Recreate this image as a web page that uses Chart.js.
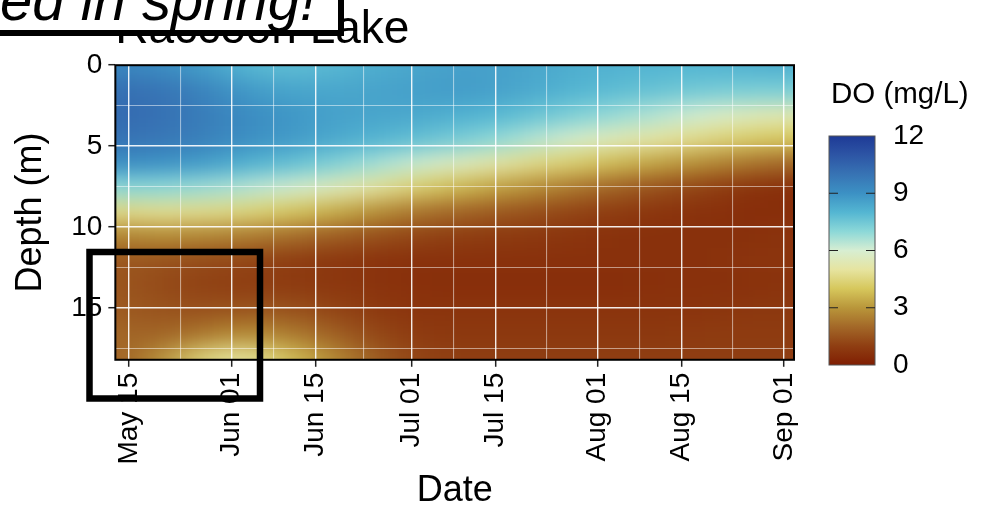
<!DOCTYPE html>
<html>
<head>
<meta charset="UTF-8" />
<title>Raccoon Lake - dissolved oxygen</title>
<script src="https://cdn.jsdelivr.net/npm/chart.js@4.4.0/dist/chart.umd.min.js"></script>
<style>
  body { margin: 0; background: #fff; }
</style>
</head>
<body>
<canvas id="chart" width="993" height="514"></canvas>
<script>
// sampling grid: day of year (2023) and depth (m)
const sampleDays = [133, 140, 147, 154, 161, 168, 175, 182, 189, 196, 203, 210, 217, 224, 231, 238, 245];
const depths = [0, 1.5, 3, 4.5, 6, 7.5, 9, 10.5, 12, 13.5, 15, 16.5, 18];

// DO (mg/L), one row per depth, one value per sample day
const doByDepth = [
  [9.4, 9.2, 8.7, 8.0, 7.8, 7.9, 8.2, 8.4, 8.6, 8.6, 8.4, 8.2, 8.1, 8.0, 8.0, 8.1, 8.2],
  [10.1, 10.0, 9.5, 8.8, 8.5, 8.4, 8.5, 8.6, 8.7, 8.6, 8.3, 8.0, 7.8, 7.6, 7.4, 7.3, 7.3],
  [10.3, 10.1, 9.7, 9.2, 8.9, 8.6, 8.5, 8.4, 8.2, 8.0, 7.6, 7.2, 6.8, 6.4, 6.0, 5.6, 5.4],
  [10.0, 9.9, 9.6, 9.1, 8.8, 8.4, 8.1, 7.8, 7.4, 7.0, 6.4, 5.9, 5.4, 5.0, 4.6, 4.2, 4.0],
  [9.1, 9.0, 8.7, 8.2, 7.8, 7.3, 6.8, 6.2, 5.7, 5.2, 4.6, 4.2, 3.7, 3.2, 2.8, 2.3, 2.0],
  [7.0, 7.0, 6.8, 6.5, 6.1, 5.6, 5.1, 4.4, 3.8, 3.3, 2.8, 2.3, 1.8, 1.4, 1.1, 0.7, 0.5],
  [4.6, 4.8, 4.7, 4.5, 4.1, 3.6, 3.0, 2.4, 2.0, 1.7, 1.4, 1.1, 0.9, 0.7, 0.6, 0.5, 0.5],
  [2.6, 2.8, 2.7, 2.5, 2.2, 1.8, 1.5, 1.2, 1.0, 0.9, 0.8, 0.7, 0.6, 0.6, 0.6, 0.6, 0.7],
  [1.6, 1.5, 1.3, 1.2, 1.0, 0.8, 0.7, 0.6, 0.6, 0.6, 0.6, 0.6, 0.6, 0.6, 0.6, 0.7, 0.7],
  [1.6, 1.3, 1.1, 1.0, 0.9, 0.8, 0.7, 0.6, 0.5, 0.5, 0.5, 0.5, 0.5, 0.6, 0.6, 0.6, 0.7],
  [1.7, 1.5, 1.4, 1.5, 1.5, 1.2, 0.9, 0.7, 0.7, 0.7, 0.7, 0.7, 0.7, 0.7, 0.7, 0.8, 0.8],
  [2.0, 1.8, 2.3, 2.8, 2.5, 1.9, 1.3, 0.9, 0.8, 0.8, 0.8, 0.8, 0.8, 0.8, 0.9, 0.9, 0.9],
  [1.8, 2.7, 4.4, 5.1, 4.0, 2.9, 1.9, 1.2, 1.0, 1.0, 1.0, 1.0, 1.0, 1.0, 1.0, 1.0, 1.0]
];

const tickDays = [135, 152, 166, 182, 196, 213, 227, 244];
const tickLabels = ['May 15', 'Jun 01', 'Jun 15', 'Jul 01', 'Jul 15', 'Aug 01', 'Aug 15', 'Sep 01'];
const minorDays = [143.5, 159, 174, 189, 204.5, 220, 235.5];
const depthTicks = [0, 5, 10, 15];
const minorDepths = [2.5, 7.5, 12.5, 17.5];
const legendTicks = [0, 3, 6, 9, 12];

// roma-like palette, DO value -> rgb
const palette = [
  [0, [128, 30, 2]], [1, [143, 62, 18]], [2, [163, 104, 40]], [3, [185, 150, 58]],
  [4, [214, 199, 92]], [5, [230, 228, 160]], [6, [215, 238, 210]], [7, [140, 216, 216]],
  [8, [84, 182, 210]], [9, [60, 145, 196]], [10, [55, 115, 180]], [11, [45, 85, 165]],
  [12, [30, 58, 150]]
];

function doColor(v) {
  v = Math.max(0, Math.min(12, v));
  for (let i = 1; i < palette.length; i++) {
    if (v <= palette[i][0]) {
      const [v0, c0] = palette[i - 1];
      const [v1, c1] = palette[i];
      const t = (v - v0) / (v1 - v0);
      const c = c0.map((a, k) => Math.round(a + (c1[k] - a) * t));
      return `rgb(${c[0]},${c[1]},${c[2]})`;
    }
  }
  return 'rgb(30,58,150)';
}

const FONT = "'Liberation Sans', Arial, sans-serif";

const datasets = depths.map((d, i) => ({
  data: sampleDays.map(day => ({ x: day, y: [d - 0.8, d + 0.8] })),
  backgroundColor: doByDepth[i].map(doColor),
  borderWidth: 0,
  grouped: false,
  barPercentage: 1.06,
  categoryPercentage: 1,
  clip: 0
}));

function isMajorX(v) { return tickDays.includes(v); }
function isMajorY(v) { return depthTicks.includes(v); }

// soften the cell grid like a raster interpolation (edges padded so they don't fade)
const smoothField = {
  id: 'smoothField',
  afterDatasetsDraw(chart) {
    const { ctx, chartArea: a, canvas } = chart;
    const r = chart.currentDevicePixelRatio || 1;
    const x0 = Math.ceil(a.left * r) + 1, y0 = Math.ceil(a.top * r) + 1;
    const w = Math.floor(a.right * r) - 1 - x0, h = Math.floor(a.bottom * r) - 1 - y0;
    const p = 60;
    const big = document.createElement('canvas');
    big.width = w + 2 * p; big.height = h + 2 * p;
    const b = big.getContext('2d');
    b.drawImage(canvas, x0, y0, w, h, p, p, w, h);
    b.drawImage(big, p, p, 1, h, 0, p, p, h);
    b.drawImage(big, p + w - 1, p, 1, h, p + w, p, p, h);
    b.drawImage(big, 0, p, big.width, 1, 0, 0, big.width, p);
    b.drawImage(big, 0, p + h - 1, big.width, 1, 0, p + h, big.width, p);
    // squash horizontally so the blur is wider across dates than across depth
    const sq = 2.2;
    const tmp = document.createElement('canvas');
    tmp.width = Math.round(big.width / sq); tmp.height = big.height;
    const t = tmp.getContext('2d');
    t.filter = 'blur(10px)';
    t.drawImage(big, 0, 0, tmp.width, tmp.height);
    ctx.save();
    ctx.setTransform(1, 0, 0, 1, 0, 0);
    ctx.beginPath();
    ctx.rect(a.left * r, a.top * r, a.width * r, a.height * r);
    ctx.clip();
    ctx.drawImage(tmp, x0 - p, y0 - p, big.width, big.height);
    ctx.restore();
  }
};

const decorations = {
  id: 'decorations',
  afterDraw(chart) {
    const { ctx, chartArea: a } = chart;
    ctx.save();
    // panel frame
    ctx.strokeStyle = '#000';
    ctx.lineWidth = 2;
    ctx.strokeRect(a.left, a.top, a.width, a.height);

    // colour bar
    const bar = { x: 829, y: 136, w: 46, h: 229 };
    const yFor = v => bar.y + bar.h * (1 - v / 12);
    const grad = ctx.createLinearGradient(0, bar.y + bar.h, 0, bar.y);
    palette.forEach(([v]) => grad.addColorStop(v / 12, doColor(v)));
    ctx.fillStyle = grad;
    ctx.fillRect(bar.x, bar.y, bar.w, bar.h);
    ctx.strokeStyle = '#555';
    ctx.lineWidth = 1;
    ctx.strokeRect(bar.x, bar.y, bar.w, bar.h);
    ctx.strokeStyle = '#222';
    ctx.lineWidth = 1.2;
    legendTicks.filter(v => v > 0 && v < 12).forEach(v => {
      const y = yFor(v);
      ctx.beginPath();
      ctx.moveTo(bar.x, y); ctx.lineTo(bar.x + 9, y);
      ctx.moveTo(bar.x + bar.w - 9, y); ctx.lineTo(bar.x + bar.w, y);
      ctx.stroke();
    });
    ctx.fillStyle = '#000';
    ctx.font = `28px ${FONT}`;
    ctx.textAlign = 'left';
    ctx.textBaseline = 'middle';
    legendTicks.forEach(v => ctx.fillText(String(v), 893, yFor(v)));
    ctx.font = `29.5px ${FONT}`;
    ctx.fillText('DO (mg/L)', 831, 95);

    // annotation box, top left
    ctx.fillStyle = '#fff';
    ctx.fillRect(-20, -20, 361, 53);
    ctx.save();
    ctx.beginPath();
    ctx.rect(-20, -20, 361, 53);
    ctx.clip();
    ctx.fillStyle = '#000';
    ctx.font = `italic 58px ${FONT}`;
    ctx.textAlign = 'right';
    ctx.textBaseline = 'alphabetic';
    ctx.fillText('Oxygen depleted in spring!', 316, 20);
    ctx.restore();
    ctx.strokeStyle = '#000';
    ctx.lineWidth = 6;
    ctx.strokeRect(-20, -20, 361, 53);

    // highlight rectangle
    ctx.lineWidth = 6.5;
    ctx.strokeRect(89.5, 252, 170.5, 146.5);
    ctx.restore();
  }
};

new Chart(document.getElementById('chart'), {
  type: 'bar',
  data: { datasets },
  plugins: [smoothField, decorations],
  options: {
    responsive: false,
    animation: false,
    layout: { padding: { left: 9, right: 199, top: 0, bottom: 2 } },
    plugins: {
      legend: { display: false },
      tooltip: { enabled: false },
      title: {
        display: true,
        text: 'Raccoon Lake',
        align: 'start',
        fullSize: false,
        color: '#000',
        font: { family: FONT, size: 46, weight: 'normal' },
        padding: { top: 3, bottom: 7 }
      }
    },
    scales: {
      x: {
        type: 'linear',
        min: 132.7,
        max: 245.7,
        offset: false,
        afterBuildTicks: s => {
          s.ticks = [...tickDays, ...minorDays].sort((p, q) => p - q).map(v => ({ value: v }));
        },
        ticks: {
          autoSkip: false,
          minRotation: 90,
          maxRotation: 90,
          padding: 6,
          color: '#000',
          font: { family: FONT, size: 28 },
          callback: v => { const k = tickDays.indexOf(v); return k >= 0 ? tickLabels[k] : ''; }
        },
        grid: {
          z: 1,
          offset: false,
          color: c => isMajorX(c.tick.value) ? 'rgba(255,255,255,0.9)' : 'rgba(255,255,255,0.5)',
          lineWidth: c => isMajorX(c.tick.value) ? 1.4 : 1.1,
          tickColor: c => isMajorX(c.tick.value) ? '#222' : 'rgba(0,0,0,0)',
          tickLength: 7,
          tickWidth: 1.5
        },
        border: { display: false },
        title: {
          display: true,
          text: 'Date',
          color: '#000',
          font: { family: FONT, size: 36, lineHeight: 1.15 },
          padding: { top: 0, bottom: 0 }
        }
      },
      y: {
        type: 'linear',
        reverse: true,
        min: 0,
        max: 18.2,
        afterBuildTicks: s => {
          s.ticks = [...depthTicks, ...minorDepths].sort((p, q) => p - q).map(v => ({ value: v }));
        },
        ticks: {
          padding: 6,
          color: '#000',
          font: { family: FONT, size: 28 },
          callback: v => isMajorY(v) ? String(v) : ''
        },
        grid: {
          z: 1,
          color: c => isMajorY(c.tick.value) ? 'rgba(255,255,255,0.9)' : 'rgba(255,255,255,0.5)',
          lineWidth: c => isMajorY(c.tick.value) ? 1.4 : 1.1,
          tickColor: c => isMajorY(c.tick.value) ? '#222' : 'rgba(0,0,0,0)',
          tickLength: 7,
          tickWidth: 1.5
        },
        border: { display: false },
        title: {
          display: true,
          text: 'Depth (m)',
          color: '#000',
          font: { family: FONT, size: 36 },
          padding: { top: 0, bottom: 13 }
        }
      }
    }
  }
});
</script>
</body>
</html>
